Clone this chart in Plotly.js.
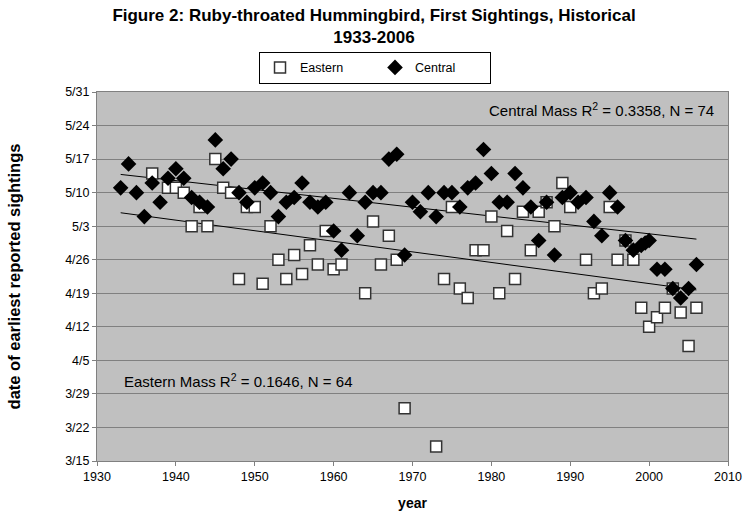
<!DOCTYPE html>
<html>
<head>
<meta charset="utf-8">
<script src="https://cdn.plot.ly/plotly-3.0.1.min.js"></script>
<style>html,body{margin:0;padding:0;background:#fff;}#chart{width:748px;height:512px;}</style>
</head>
<body>
<div id="chart"></div>
<script>
// Day-of-year values (3/15 = 74 ... 5/31 = 151)
const eastYears = [1937,1939,1940,1941,1942,1943,1944,1945,1946,1947,1948,1949,1950,1951,1952,1953,1954,1955,1956,1957,1958,1959,1960,1961,1964,1965,1966,1967,1968,1969,1973,1974,1975,1976,1977,1978,1979,1980,1981,1982,1983,1984,1985,1986,1987,1988,1989,1990,1992,1993,1994,1995,1996,1997,1998,1999,2000,2001,2002,2003,2004,2005,2006];
const eastDays  = [134,131,131,130,123,127,123,137,131,130,112,127,127,111,123,116,112,117,113,119,115,122,114,115,109,124,115,121,116,85,77,112,127,110,108,118,118,125,109,122,112,126,118,126,128,123,132,127,116,109,110,127,116,120,116,106,102,104,106,110,105,98,106];

const centYears = [1933,1934,1935,1936,1937,1938,1939,1940,1941,1942,1943,1944,1945,1946,1947,1948,1949,1950,1951,1952,1953,1954,1955,1956,1957,1958,1959,1960,1961,1962,1963,1964,1965,1966,1967,1968,1969,1970,1971,1972,1973,1974,1975,1976,1977,1978,1979,1980,1981,1982,1983,1984,1985,1986,1987,1988,1989,1990,1991,1992,1993,1994,1995,1996,1997,1998,1999,1999.5,2000,2001,2002,2003,2004,2005,2006];
const centDays  = [131,136,130,125,132,128,133,135,133,129,128,127,141,135,137,130,128,131,132,130,125,128,129,132,128,127,128,122,118,130,121,128,130,130,137,138,117,128,126,130,125,130,130,127,131,132,139,134,128,128,134,131,127,120,128,117,129,130,128,129,124,121,130,127,120,118,119,119.5,120,114,114,110,108,110,115];

// Trend line end points
const centTrendX = [1933, 2006];
const centTrendY = [133.8, 120.3];
const eastTrendX = [1933, 2006];
const eastTrendY = [125.8, 109.7];

const yTickDays   = [74,81,88,95,102,109,116,123,130,137,144,151];
const yTickLabels = ["3/15","3/22","3/29","4/5","4/12","4/19","4/26","5/3","5/10","5/17","5/24","5/31"];

const FONT = "Liberation Sans, Arial, sans-serif";

const traces = [
  {x: centTrendX, y: centTrendY, mode: 'lines', line: {color: '#000', width: 1}, showlegend: false, hoverinfo: 'skip'},
  {x: eastTrendX, y: eastTrendY, mode: 'lines', line: {color: '#000', width: 1}, showlegend: false, hoverinfo: 'skip'},
  {x: eastYears, y: eastDays, name: 'Eastern', mode: 'markers', type: 'scatter',
   marker: {symbol: 'square', size: 11, color: '#ffffff', line: {color: '#333333', width: 1.5}}},
  {x: centYears, y: centDays, name: 'Central', mode: 'markers', type: 'scatter',
   marker: {symbol: 'diamond', size: 12, color: '#000000', line: {width: 0}}}
];

const layout = {
  width: 748, height: 512,
  margin: {l: 97, r: 20, t: 92, b: 51},
  paper_bgcolor: '#ffffff',
  plot_bgcolor: '#c0c0c0',
  font: {family: FONT, size: 12, color: '#000'},
  title: {text: '<b>Figure 2: Ruby-throated Hummingbird, First Sightings, Historical<br>1933-2006</b>',
          font: {family: FONT, size: 17, color: '#000'}, x: 0.5, xanchor: 'center',
          yref: 'container', y: 0.959, yanchor: 'middle'},
  xaxis: {range: [1930, 2010], dtick: 10, tick0: 1930, showgrid: false, zeroline: false,
          showline: true, linecolor: '#808080', linewidth: 1, mirror: true,
          ticks: 'outside', ticklen: 4, tickcolor: '#808080', tickangle: 0,
          tickfont: {family: FONT, size: 12.5, color: '#000'},
          title: {text: '<b>year</b>', font: {family: FONT, size: 14, color: '#000'}, standoff: 15}},
  yaxis: {range: [74, 151], tickvals: yTickDays, ticktext: yTickLabels,
          showgrid: true, gridcolor: '#808080', gridwidth: 1, zeroline: false,
          showline: true, linecolor: '#808080', linewidth: 1, mirror: true,
          ticks: 'outside', ticklen: 4, tickcolor: '#808080',
          tickfont: {family: FONT, size: 12.5, color: '#000'},
          title: {text: '<b>date of earliest reported sightings</b>', font: {family: FONT, size: 16.5, color: '#000'}, standoff: 40}},
  legend: {orientation: 'h', x: 0.4406, xanchor: 'center', y: 1.109, yanchor: 'top',
           bgcolor: '#ffffff', bordercolor: '#000', borderwidth: 1,
           font: {family: FONT, size: 12.5, color: '#000'}, entrywidth: 70},
  annotations: [
    {xref: 'paper', yref: 'paper', x: 0.981, y: 0.9525, xanchor: 'right', yanchor: 'middle', showarrow: false,
     text: 'Central Mass R<sup>2</sup> = 0.3358, N = 74', font: {family: FONT, size: 15, color: '#000'}},
    {xref: 'paper', yref: 'paper', x: 0.04, y: 0.217, xanchor: 'left', yanchor: 'middle', showarrow: false,
     text: 'Eastern Mass R<sup>2</sup> = 0.1646, N = 64', font: {family: FONT, size: 15, color: '#000'}}
  ]
};

Plotly.newPlot('chart', traces, layout, {displayModeBar: false, staticPlot: true});
</script>
</body>
</html>
